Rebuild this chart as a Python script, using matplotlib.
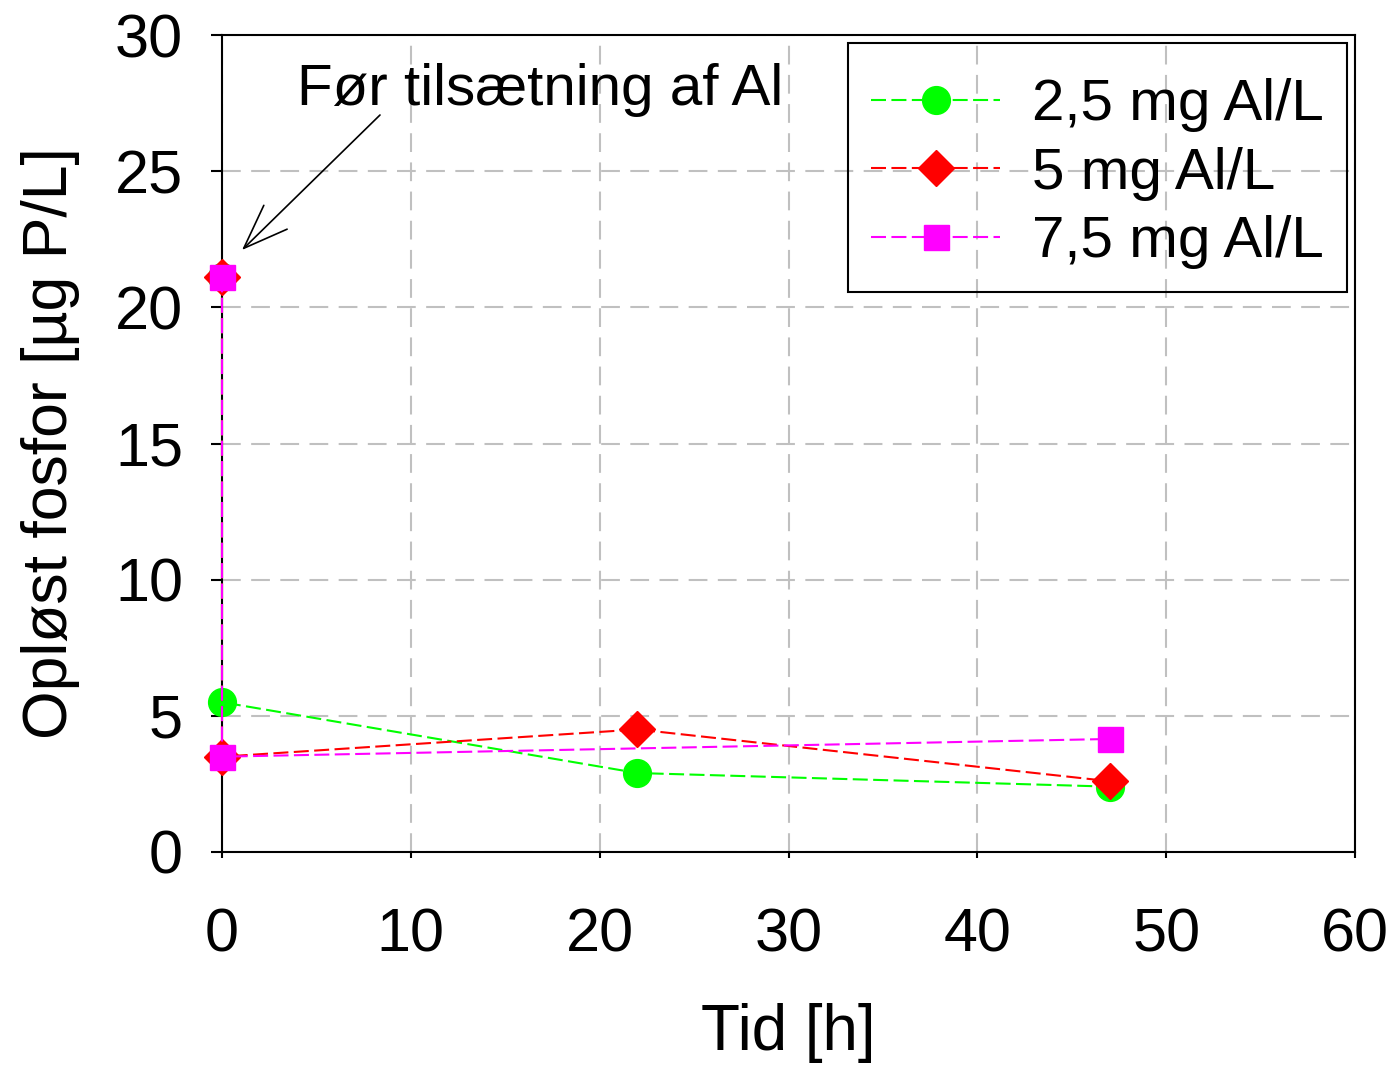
import matplotlib
matplotlib.use("Agg")
import matplotlib.pyplot as plt
from matplotlib.patches import Rectangle

plt.rcParams['font.family'] = ['Liberation Sans', 'DejaVu Sans']

# Data
t_green = [0, 0, 22, 47]
p_green = [21.1, 5.5, 2.9, 2.4]
t_red = [0, 0, 22, 47]
p_red = [21.1, 3.5, 4.5, 2.6]
t_mag = [0, 0, 47]
p_mag = [21.1, 3.5, 4.15]
labels = ["2,5 mg Al/L", "5 mg Al/L", "7,5 mg Al/L"]
xticks = [0, 10, 20, 30, 40, 50, 60]
yticks = [0, 5, 10, 15, 20, 25, 30]

W, H = 1395, 1065
fig = plt.figure(figsize=(W / 100, H / 100), dpi=100)
ax = fig.add_axes([222/W, 1 - 852/H, (1355-222)/W, (852-35)/H])

dash = (7.2, 2.6)
ax.plot(t_green, p_green, color='#00ff00', lw=1.5, marker='o', ms=20,
        dashes=dash, label=labels[0], clip_on=False, zorder=3)
ax.plot(t_red, p_red, color='#ff0000', lw=1.5, marker='D', ms=18,
        dashes=dash, label=labels[1], clip_on=False, zorder=4)
ax.plot(t_mag, p_mag, color='#ff00ff', lw=1.5, marker='s', ms=18,
        dashes=dash, label=labels[2], clip_on=False, zorder=5)

ax.set_xlim(0, 60)
ax.set_ylim(0, 30)
ax.set_xticks(xticks)
ax.set_yticks(yticks)
ax.grid(True, color='#c0c0c0', ls=(0, (9, 5)), lw=1.5)
ax.set_axisbelow(True)
for s in ax.spines.values():
    s.set_linewidth(1.5)
ax.tick_params(axis='y', direction='out', length=8, width=1.5, labelsize=44, pad=20)
ax.tick_params(axis='x', direction='out', length=4, width=1.5, labelsize=44, pad=36)

ax.set_xlabel("Tid [h]", fontsize=46, labelpad=28)
ax.set_ylabel("Opløst fosfor [µg P/L]", fontsize=45, labelpad=25)

# annotation text and arrow
fig.text(540/W, 1 - 90/H, "Før tilsætning af Al", fontsize=42, ha='center', va='center')
ax.annotate("", xy=(242/W, 1 - 250/H), xycoords='figure fraction',
            xytext=(380/W, 1 - 115/H), textcoords='figure fraction',
            arrowprops=dict(arrowstyle='->,head_length=1.6,head_width=0.6',
                            color='black', lw=1.2, mutation_scale=20,
                            shrinkA=0, shrinkB=0))

leg = ax.legend(loc='upper right', bbox_to_anchor=(1347/W, 1 - 55/H),
                bbox_transform=fig.transFigure, fontsize=42, frameon=False,
                handlelength=2.2, handletextpad=0.55, borderpad=0.4,
                labelspacing=0.25, borderaxespad=0)
fig.patches.append(Rectangle((848/W, 1 - 292/H), (1347-848)/W, (292-43)/H,
                             transform=fig.transFigure, fill=False,
                             edgecolor='black', lw=1.5, zorder=10))

fig.savefig("out.png", dpi=100)
